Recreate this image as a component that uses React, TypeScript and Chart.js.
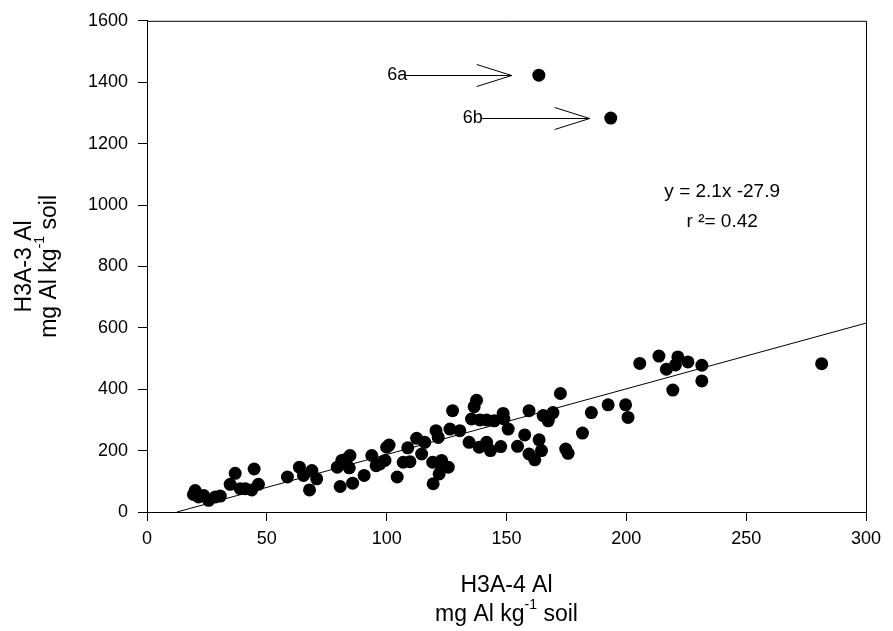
import { useEffect, useRef } from "react";
import Chart from "chart.js/auto";

// H3A-4 Al (x) vs H3A-3 Al (y), mg Al kg-1 soil
const h3a4 = [
  20.1, 19.4, 21.5, 23.6, 25.7, 28.5, 30.6, 34.7, 36.8, 38.9, 41, 43.7, 44.7, 46.5,
  58.6, 63.6, 65.3, 67.8, 68.8, 70.8, 79.4, 80.6, 81.3, 83.3, 84.7, 84.4, 85.8, 90.6,
  93.8, 95.6, 97.2, 99.3, 100, 101, 104.4, 106.9, 108.8, 109.7, 112.5, 114.6, 115.9,
  119.4, 119.2, 120.6, 121.5, 121.9, 122.9, 122.9, 125.7, 126.4, 127.5, 130.5, 134.4,
  135.4, 136.5, 137.5, 138.6, 138.9, 141.7, 141.7, 143.3, 144.9, 147.6, 148.6, 150.7,
  148.9, 154.6, 157.6, 159.4, 159.4, 161.8, 163.6, 164.6, 165.3, 167.4, 167.8, 169.4,
  172.5, 174.7, 175.7, 181.7, 185.4, 192.4, 199.7, 200.7, 205.6, 213.6, 216.7, 219.4,
  220.5, 221.5, 225.7, 231.5, 231.5, 281.5,
];
const h3a3 = [
  70, 57, 49, 54, 38, 49, 52, 90, 126, 76, 76, 72, 140, 90,
  114, 146, 119, 72, 135, 108, 146, 83, 168, 173, 184, 144, 94, 119,
  184, 151, 157, 168, 211, 218, 114, 162, 209, 164, 240, 189, 227,
  92, 162, 265, 243, 124, 168, 146, 146, 270, 330, 265, 227,
  303, 343, 364, 211, 300, 300, 227, 200, 297, 213, 321, 270,
  303, 214, 251, 330, 189, 170, 235, 200, 314, 297, 310, 324,
  386, 205, 191, 257, 324, 349, 349, 308, 484, 508, 465, 397,
  479, 505, 489, 478, 427, 483,
];

const outlierNames = ["6a", "6b"];
const outlierH3a4 = [163.5, 193.5];
const outlierH3a3 = [1423, 1283];

const fitSlope = 2.14;
const fitIntercept = -26.8;
const fitText = ["y = 2.1x -27.9", "r ²= 0.42"];

const FONT = "'Liberation Sans', Arial, Helvetica, sans-serif";

// arrows pointing at the outliers (data units)
const arrowTail = [107.8, 139.3];
const arrowTip = [152.2, 184.7];

type Part = { t: string; sup?: boolean };

function drawRich(ctx: CanvasRenderingContext2D, parts: Part[], cx: number, cy: number, size: number) {
  const supSize = Math.round(size * 0.6);
  let total = 0;
  for (const p of parts) {
    ctx.font = `${p.sup ? supSize : size}px ${FONT}`;
    total += ctx.measureText(p.t).width;
  }
  let x = cx - total / 2;
  ctx.textAlign = "left";
  ctx.textBaseline = "middle";
  for (const p of parts) {
    ctx.font = `${p.sup ? supSize : size}px ${FONT}`;
    ctx.fillText(p.t, x, p.sup ? cy - size * 0.42 : cy);
    x += ctx.measureText(p.t).width;
  }
}

const unitParts: Part[] = [{ t: "mg Al kg" }, { t: "-1", sup: true }, { t: " soil" }];

const decorPlugin = {
  id: "decor",
  afterDraw(chart: Chart) {
    const { ctx, chartArea } = chart;
    const xs = chart.scales.x;
    const ys = chart.scales.y;
    ctx.save();
    ctx.strokeStyle = "#000";
    ctx.fillStyle = "#000";
    ctx.lineWidth = 1;

    // top and right frame
    ctx.beginPath();
    ctx.moveTo(chartArea.left, chartArea.top + 0.5);
    ctx.lineTo(chartArea.right + 0.5, chartArea.top + 0.5);
    ctx.lineTo(chartArea.right + 0.5, chartArea.bottom);
    ctx.stroke();

    // arrows + labels
    ctx.font = `18px ${FONT}`;
    outlierNames.forEach((name, i) => {
      const y = Math.round(ys.getPixelForValue(outlierH3a3[i])) + 0.5;
      const x0 = xs.getPixelForValue(arrowTail[i]);
      const x1 = xs.getPixelForValue(arrowTip[i]);
      ctx.beginPath();
      ctx.moveTo(x0, y);
      ctx.lineTo(x1, y);
      ctx.moveTo(x1 - 35, y - 11);
      ctx.lineTo(x1, y);
      ctx.lineTo(x1 - 35, y + 11);
      ctx.stroke();
      ctx.textAlign = "right";
      ctx.textBaseline = "middle";
      ctx.fillText(name, x0 + 2, y);
    });

    // fit equation
    ctx.textAlign = "center";
    ctx.textBaseline = "middle";
    ctx.font = `19px ${FONT}`;
    const ex = xs.getPixelForValue(240);
    ctx.fillText(fitText[0], ex, ys.getPixelForValue(1043));
    ctx.fillText(fitText[1], ex, ys.getPixelForValue(946));

    // x title
    const midX = (chartArea.left + chartArea.right) / 2;
    ctx.font = `23px ${FONT}`;
    ctx.fillText("H3A-4 Al", midX, 586);
    drawRich(ctx, unitParts, midX, 615, 23);

    // y title
    const midY = (chartArea.top + chartArea.bottom) / 2;
    ctx.translate(0, midY);
    ctx.rotate(-Math.PI / 2);
    ctx.font = `23px ${FONT}`;
    ctx.textAlign = "center";
    ctx.fillText("H3A-3 Al", 0, 25);
    drawRich(ctx, unitParts, 0, 50, 23);
    ctx.restore();
  },
};

export default function App() {
  const canvasRef = useRef<HTMLCanvasElement | null>(null);

  useEffect(() => {
    document.body.style.margin = "0";
    if (!canvasRef.current) return;

    const fitStart = -fitIntercept / fitSlope;
    const tickFont = { family: FONT, size: 18 };
    const plain = (v: string | number) => String(v);

    const chart = new Chart(canvasRef.current, {
      type: "scatter",
      data: {
        datasets: [
          {
            type: "line",
            data: [
              { x: fitStart, y: 0 },
              { x: 300, y: fitSlope * 300 + fitIntercept },
            ],
            borderColor: "#000",
            borderWidth: 1,
            pointRadius: 0,
            fill: false,
          },
          {
            data: h3a4.map((x, i) => ({ x, y: h3a3[i] })),
            backgroundColor: "#000",
            borderWidth: 0,
            pointRadius: 6.5,
          },
          {
            data: outlierH3a4.map((x, i) => ({ x, y: outlierH3a3[i] })),
            backgroundColor: "#000",
            borderWidth: 0,
            pointRadius: 6.5,
          },
        ],
      },
      options: {
        responsive: false,
        animation: false,
        layout: { padding: { top: 18, right: 27, left: 0, bottom: 0 } },
        plugins: { legend: { display: false }, tooltip: { enabled: false } },
        scales: {
          x: {
            type: "linear",
            min: 0,
            max: 300,
            ticks: { stepSize: 50, color: "#000", font: tickFont, padding: 7, callback: plain },
            grid: { drawOnChartArea: false, drawTicks: true, tickLength: 9, color: "#000" },
            border: { display: true, color: "#000" },
            afterFit: (s: any) => {
              s.height = 119;
            },
          },
          y: {
            type: "linear",
            min: 0,
            max: 1600,
            ticks: { stepSize: 200, color: "#000", font: tickFont, padding: 10, callback: plain },
            grid: { drawOnChartArea: false, drawTicks: true, tickLength: 9, color: "#000" },
            border: { display: true, color: "#000" },
            afterFit: (s: any) => {
              s.width = 147;
            },
          },
        },
      },
      plugins: [decorPlugin],
    });

    return () => chart.destroy();
  }, []);

  return (
    <div style={{ width: 893, height: 631, background: "#fff" }}>
      <canvas ref={canvasRef} width={893} height={631} />
    </div>
  );
}
